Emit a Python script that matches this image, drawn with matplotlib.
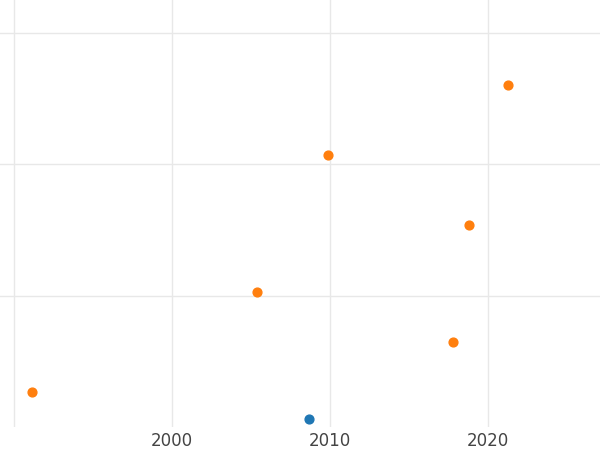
import matplotlib.pyplot as plt

# Data
orange_x = [1991.1, 2005.4, 2009.9, 2017.8, 2018.8, 2021.3]
orange_y = [0.27, 1.03, 2.07, 0.65, 1.54, 2.60]
blue_x = [2008.7]
blue_y = [0.06]
x_ticks = [1990, 2000, 2010, 2020]
x_labels = ['', '2000', '2010', '2020']

fig = plt.figure(figsize=(6, 4.5), dpi=100)
ax = fig.add_axes([0, 0.051, 1, 0.949])

ax.scatter(orange_x, orange_y, color='#ff7f0e', s=40, zorder=3)
ax.scatter(blue_x, blue_y, color='#1f77b4', s=40, zorder=3)

ax.set_xlim(1989.1, 2027.1)
ax.set_ylim(0, 3.25)
ax.set_xticks(x_ticks)
ax.set_xticklabels(x_labels, fontsize=12, color='#444444')
ax.set_yticks([1, 2, 3])
ax.set_yticklabels([])
ax.tick_params(length=0)
ax.grid(True, color='#e8e8e8', linewidth=1)
ax.set_axisbelow(True)
for s in ax.spines.values():
    s.set_visible(False)

fig.savefig('out.png')
